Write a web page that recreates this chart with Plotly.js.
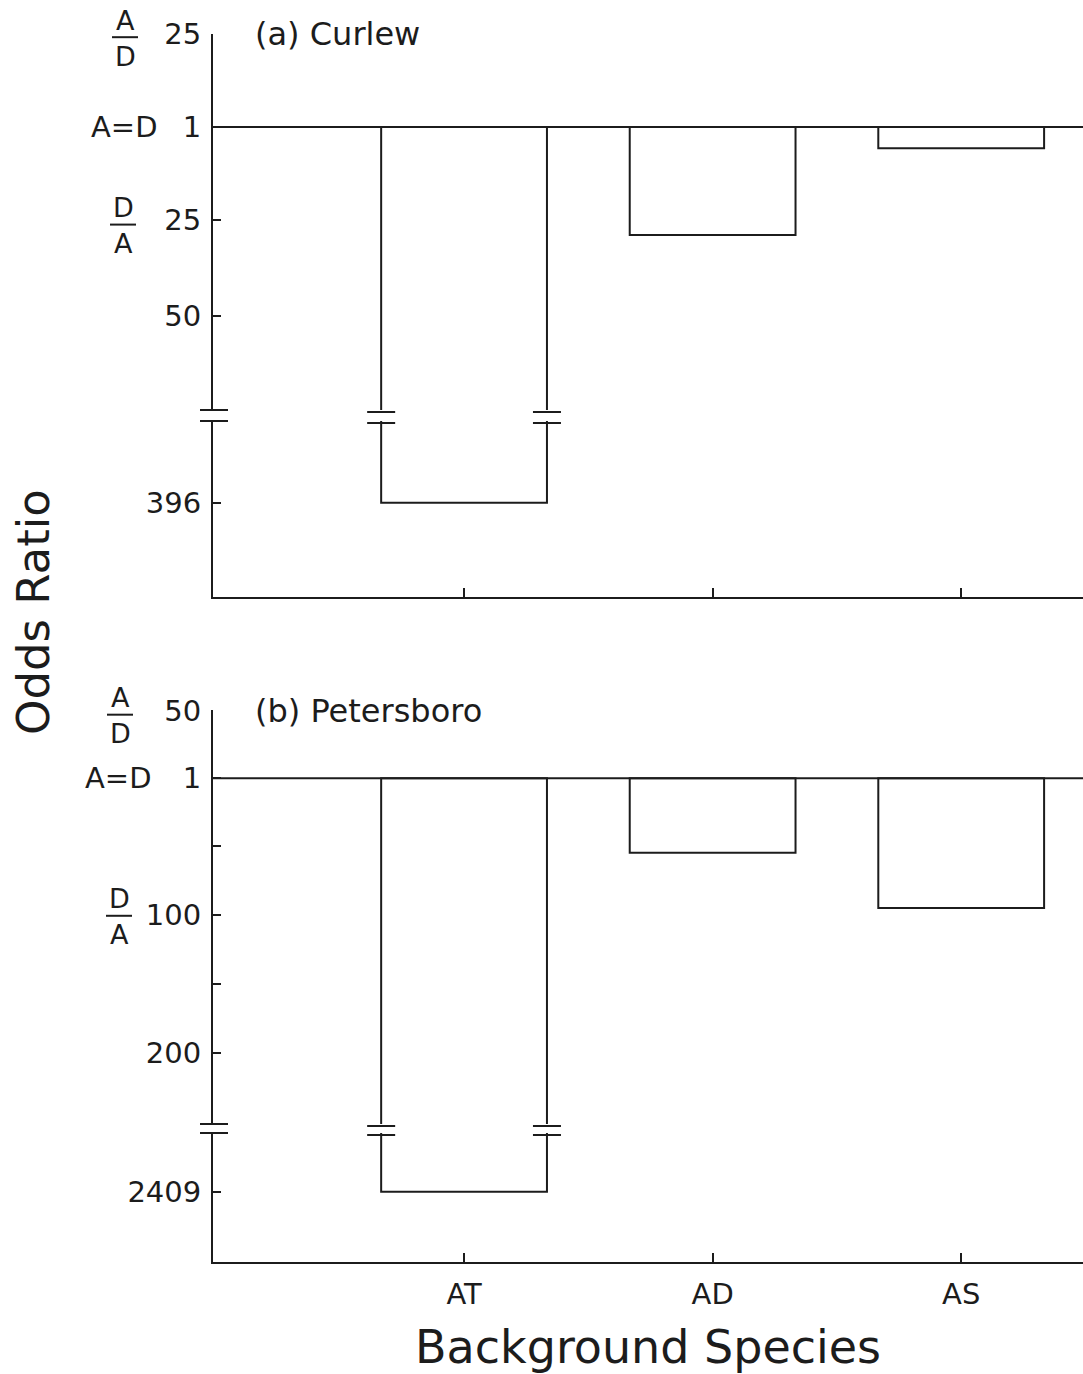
<!DOCTYPE html>
<html>
<head>
<meta charset="utf-8">
<script src="https://cdn.plot.ly/plotly-3.0.1.min.js"></script>
<style>html,body{margin:0;padding:0;background:#fff;}</style>
</head>
<body>
<div id="chart" style="width:1083px;height:1374px;"></div>
<script>
// ---------------- data ----------------
const species = ['AT', 'AD', 'AS'];
const curlewOdds = [396, 29, 6.5];        // D/A odds ratios, panel (a)
const petersboroOdds = [2409, 55, 95];    // D/A odds ratios, panel (b)
const baseline = 1;                       // A = D

// tick labels (signed odds scale: A/D k is drawn at 2-k)
const aUpperTickVals = [-23, 1, 25, 50];
const aUpperTickText = ['25', '1', '25', '50'];
const aLowerTickVals = [396];
const aLowerTickText = ['396'];
const bUpperTickVals = [-48, 1, 50, 100, 150, 200];
const bUpperTickText = ['50', '1', '', '100', '', '200'];
const bLowerTickVals = [2409];
const bLowerTickText = ['2409'];
const panelTitles = ['(a) Curlew', '(b) Petersboro'];
const xTitle = 'Background Species';
const yTitle = 'Odds Ratio';

// ---------------- geometry / style ----------------
const ink = '#1c1c1c';
const font = 'DejaVu Sans, sans-serif';
const W = 1083, H = 1374;
const M = {l: 213, r: 0, t: 34, b: 112};
const plotTop = M.t, plotBot = H - M.b, plotH = plotBot - plotTop;
function dom(topPx, botPx) { return [(plotBot - botPx) / plotH, (plotBot - topPx) / plotH]; }
const barW = 0.667;

const segs = {
  aUp:  {dom: dom(34, 410),   range: [74.3, -23.05]},
  aLo:  {dom: dom(421, 597),  range: [420.4, 374.8]},
  bUp:  {dom: dom(710, 1124), range: [251.7, -48.5]},
  bLo:  {dom: dom(1133, 1262), range: [2460, 2366.4]}
};

function yAxis(seg, anchor, vals, text) {
  return {
    domain: seg.dom, range: seg.range, autorange: false, anchor: anchor,
    showline: true, linewidth: 2, linecolor: ink,
    ticks: 'inside', ticklen: 8, tickwidth: 2, tickcolor: ink,
    tickvals: vals, ticktext: text, ticklabelstandoff: 4,
    tickfont: {family: font, size: 29, color: ink},
    showgrid: false, zeroline: false, fixedrange: true
  };
}

function barTrace(vals, xa, ya) {
  return {
    type: 'bar', x: species,
    base: vals.map(() => baseline),
    y: vals.map(v => v - baseline),
    width: barW, xaxis: xa, yaxis: ya,
    marker: {color: 'rgba(255,255,255,0)', line: {color: ink, width: 2}},
    showlegend: false, hoverinfo: 'skip'
  };
}

const data = [
  barTrace(curlewOdds, 'x2', 'y'),
  barTrace(curlewOdds, 'x2', 'y2'),
  barTrace(petersboroOdds, 'x', 'y3'),
  barTrace(petersboroOdds, 'x', 'y4')
];

const shapes = [];
const annotations = [];
const lineStyle = {color: ink, width: 2};

// baseline A = D across each panel
[['y', 'x2'], ['y3', 'x']].forEach(([ya]) => {
  shapes.push({type: 'line', xref: 'paper', x0: 0, x1: 1, yref: ya, y0: baseline, y1: baseline, line: lineStyle, layer: 'above'});
});

// break marks on axis and on bars that cross the break
function breakMarks(upper, lower, vals, xa) {
  const yTop = upper.dom[0], yBot = lower.dom[1];
  [yTop, yBot].forEach(yy => {
    shapes.push({type: 'line', xref: 'paper', xsizemode: 'pixel', xanchor: 0, x0: -13, x1: 15,
      yref: 'paper', y0: yy, y1: yy, line: lineStyle});
  });
  const upMax = upper.range[0];
  vals.forEach((v, i) => {
    if (v > upMax) {
      [i - barW / 2, i + barW / 2].forEach(xe => {
        [yTop, yBot].forEach(yy => {
          shapes.push({type: 'line', xref: xa, xsizemode: 'pixel', xanchor: xe, x0: -14, x1: 14,
            yref: 'paper', ysizemode: 'pixel', yanchor: yy, y0: -2, y1: -2, line: lineStyle});
        });
      });
    }
  });
}
breakMarks(segs.aUp, segs.aLo, curlewOdds, 'x2');
breakMarks(segs.bUp, segs.bLo, petersboroOdds, 'x');

// ratio labels left of axis
function txt(text, ya, y, xshift, yshift, size, anchor) {
  annotations.push({text: text, xref: 'paper', x: 0, xanchor: anchor || 'center', xshift: xshift,
    yref: ya, y: y, yanchor: 'middle', yshift: yshift, showarrow: false,
    font: {family: font, size: size, color: ink}});
}
function fraction(top, bot, ya, y, xc, barOff) {
  // xc: pixel x of fraction centre relative to axis line; barOff: px below tick
  txt(top, ya, y, xc, -barOff + 17, 27);
  txt(bot, ya, y, xc, -barOff - 19, 27);
  shapes.push({type: 'line', xref: 'paper', xsizemode: 'pixel', xanchor: 0, x0: xc - 13, x1: xc + 13,
    yref: ya, ysizemode: 'pixel', yanchor: y, y0: -barOff, y1: -barOff, line: {color: ink, width: 2}});
}
fraction('A', 'D', 'y', aUpperTickVals[0], -88, 3);
fraction('D', 'A', 'y', aUpperTickVals[2], -90, 5);
txt('A=D', 'y', baseline, -54, 0, 29, 'right');
fraction('A', 'D', 'y3', bUpperTickVals[0], -93, 4);
fraction('D', 'A', 'y3', bUpperTickVals[3], -94, 1);
txt('A=D', 'y3', baseline, -60, 0, 29, 'right');

// panel titles
[['y', aUpperTickVals[0]], ['y3', bUpperTickVals[0]]].forEach(([ya, y], k) => {
  annotations.push({text: panelTitles[k], xref: 'paper', x: 0, xshift: 40, xanchor: 'left',
    yref: ya, y: y, yanchor: 'middle', showarrow: false,
    font: {family: font, size: 32, color: ink}});
});

// axis titles
annotations.push({text: yTitle, xref: 'paper', x: 0, xshift: 33 - M.l, xanchor: 'center',
  yref: 'paper', y: (plotBot - 612) / plotH, yanchor: 'middle', textangle: -90, showarrow: false,
  font: {family: font, size: 45, color: ink}});
annotations.push({text: xTitle, xref: 'paper', x: 0.5, xanchor: 'center',
  yref: 'paper', y: (plotBot - 1347) / plotH, yanchor: 'middle', showarrow: false,
  font: {family: font, size: 46, color: ink}});

const xBase = {
  type: 'category', range: [-1.01, 2.49], autorange: false, domain: [0, 1],
  showline: true, linewidth: 2, linecolor: ink,
  ticks: 'inside', ticklen: 9, tickwidth: 2, tickcolor: ink,
  showgrid: false, zeroline: false, fixedrange: true,
  tickfont: {family: font, size: 29, color: ink}, ticklabelstandoff: 5
};

const layout = {
  width: W, height: H, margin: M,
  paper_bgcolor: '#ffffff', plot_bgcolor: 'rgba(0,0,0,0)',
  showlegend: false, bargap: 0,
  font: {family: font, color: ink},
  xaxis: Object.assign({}, xBase, {anchor: 'y4'}),
  xaxis2: Object.assign({}, xBase, {anchor: 'y2', matches: 'x', showticklabels: false}),
  yaxis: yAxis(segs.aUp, 'x2', aUpperTickVals, aUpperTickText),
  yaxis2: yAxis(segs.aLo, 'x2', aLowerTickVals, aLowerTickText),
  yaxis3: yAxis(segs.bUp, 'x', bUpperTickVals, bUpperTickText),
  yaxis4: yAxis(segs.bLo, 'x', bLowerTickVals, bLowerTickText),
  shapes: shapes, annotations: annotations
};

Plotly.newPlot('chart', data, layout, {staticPlot: true, displayModeBar: false});
</script>
</body>
</html>
